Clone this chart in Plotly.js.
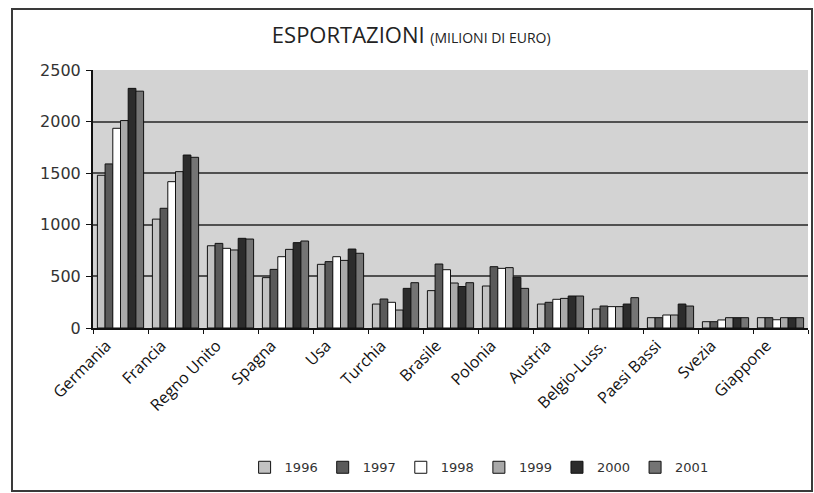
<!DOCTYPE html>
<html>
<head>
<meta charset="utf-8">
<script src="https://cdn.plot.ly/plotly-3.0.1.min.js"></script>
<style>
  html, body { margin: 0; padding: 0; background: #ffffff; }
  #frame { position: absolute; left: 11px; top: 8px; width: 798px; height: 480px; border: 2px solid #3a3a3a; background: #fff; }
  #chart { width: 798px; height: 480px; }
</style>
</head>
<body>
<div id="frame"><div id="chart"></div></div>
<script>
const countries = ["Germania", "Francia", "Regno Unito", "Spagna", "Usa", "Turchia", "Brasile", "Polonia", "Austria", "Belgio-Luss.", "Paesi Bassi", "Svezia", "Giappone"];
const years = ["1996", "1997", "1998", "1999", "2000", "2001"];
const v1996 = [1480, 1055, 797, 488, 617, 232, 362, 407, 232, 184, 100, 61, 100];
const v1997 = [1590, 1160, 820, 568, 643, 281, 620, 594, 249, 213, 100, 61, 100];
const v1998 = [1935, 1418, 772, 691, 691, 249, 565, 578, 278, 207, 126, 78, 80];
const v1999 = [2010, 1515, 756, 762, 655, 174, 436, 585, 287, 207, 126, 100, 100];
const v2000 = [2322, 1676, 869, 827, 765, 384, 402, 491, 310, 232, 232, 100, 100];
const v2001 = [2295, 1654, 862, 843, 724, 439, 439, 384, 310, 294, 213, 100, 100];
const seriesValues = [v1996, v1997, v1998, v1999, v2000, v2001];
const yTicks = [0, 500, 1000, 1500, 2000, 2500];

const fills = ["#c2c2c2", "#5a5a5a", "#ffffff", "#a9a9a9", "#2c2c2c", "#747474"];

const traces = years.map((y, i) => ({
  type: "bar",
  name: y,
  x: countries,
  y: seriesValues[i],
  marker: { color: fills[i], line: { color: "#111111", width: 1 } },
  hoverinfo: "x+y+name"
}));

const layout = {
  width: 798,
  height: 480,
  paper_bgcolor: "#ffffff",
  plot_bgcolor: "#d3d3d3",
  margin: { l: 80, r: 3, t: 60, b: 162 },
  barmode: "group",
  bargap: 0.16,
  bargroupgap: 0,
  font: { family: "Open Sans, sans-serif", color: "#222" },
  title: {
    text: "ESPORTAZIONI <span style='font-size:14px'>(MILIONI DI EURO)</span>",
    font: { family: "Open Sans, sans-serif", size: 22, color: "#222" },
    xref: "container", x: 0.499, xanchor: "center",
    yref: "container", y: 0.948, yanchor: "middle"
  },
  xaxis: {
    type: "category",
    tickangle: -45,
    tickfont: { family: "Open Sans, sans-serif", size: 16, color: "#111" },
    ticks: "outside",
    tickson: "boundaries",
    ticklen: 4,
    tickcolor: "#111",
    ticklabelshift: -14,
    showline: true,
    linecolor: "#111",
    linewidth: 2,
    showgrid: false
  },
  yaxis: {
    range: [0, 2500],
    tickvals: yTicks,
    ticktext: yTicks.map(String),
    tickfont: { family: "DejaVu Sans, sans-serif", size: 16, color: "#333" },
    ticks: "outside",
    ticklen: 5,
    tickcolor: "#111",
    showline: true,
    linecolor: "#111",
    linewidth: 2,
    showgrid: true,
    gridcolor: "#505050",
    gridwidth: 2,
    zeroline: false,
    ticklabelstandoff: 2
  },
  showlegend: true,
  legend: {
    orientation: "h",
    xref: "paper", x: 0.54, xanchor: "center",
    yref: "paper", y: -0.54, yanchor: "middle",
    font: { family: "DejaVu Sans, sans-serif", size: 13, color: "#333" },
    itemwidth: 30,
    traceorder: "normal"
  }
};

Plotly.newPlot("chart", traces, layout, { displayModeBar: false, staticPlot: true });
</script>
</body>
</html>
